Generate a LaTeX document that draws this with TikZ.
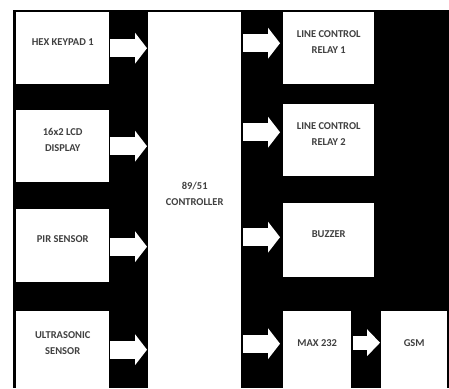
\documentclass[tikz,border=0pt]{standalone}
\usepackage{fontspec}
\setmainfont{Carlito}
\usetikzlibrary{arrows.meta}

\newcommand{\boxtext}[1]{\begin{tabular}[b]{@{}c@{}}#1\end{tabular}}

\tikzset{
  box/.style={fill=white, anchor=north west, inner sep=2pt, text depth=17pt,
    font=\bfseries\fontsize{10.5}{16}\selectfont, text=black!75},
  bigarrow/.style={draw=white, line width=18pt,
    -{Triangle[length=12pt,width=31pt,line width=0pt]}},
  smallarrow/.style={draw=white, line width=14pt,
    -{Triangle[length=13pt,width=27pt,line width=0pt]}}
}

\begin{document}
\begin{tikzpicture}[x=1pt, y=-1pt]
  \useasboundingbox (0,0) rectangle (449,388);
  % background
  \fill[black] (13,10) rectangle (449,388);

  % input blocks
  \node[box, minimum width=93, minimum height=72] (keypad) at (16,12) {\boxtext{HEX KEYPAD 1}};
  \node[box, minimum width=93, minimum height=72] (lcd) at (16,110) {\boxtext{16x2 LCD\\DISPLAY}};
  \node[box, minimum width=93, minimum height=73] (pir) at (16,209) {\boxtext{PIR SENSOR}};
  \node[box, minimum width=93, minimum height=77] (ultra) at (16,311) {\boxtext{ULTRASONIC\\SENSOR}};

  % controller
  \node[box, minimum width=93, minimum height=376] (ctrl) at (148,12) {\boxtext{89/51\\CONTROLLER}};

  % output blocks
  \node[box, minimum width=91, minimum height=72] (relay1) at (283,12) {\boxtext{LINE CONTROL\\RELAY 1}};
  \node[box, minimum width=91, minimum height=72] (relay2) at (283,104) {\boxtext{LINE CONTROL\\RELAY 2}};
  \node[box, minimum width=91, minimum height=74] (buzzer) at (283,203) {\boxtext{BUZZER}};
  \node[box, minimum width=68, minimum height=77] (max) at (283,311) {\boxtext{MAX 232}};
  \node[box, minimum width=66, minimum height=77] (gsm) at (381,311) {\boxtext{GSM}};

  % arrows
  \draw[bigarrow] ([xshift=1]keypad.east) -- ([xshift=-1]ctrl.west |- keypad.east);
  \draw[bigarrow] ([xshift=1]lcd.east) -- ([xshift=-1]ctrl.west |- lcd.east);
  \draw[bigarrow] ([xshift=1,yshift=-1]pir.east) -- ([xshift=-1,yshift=-1]ctrl.west |- pir.east);
  \draw[bigarrow] ([xshift=1]ultra.east) -- ([xshift=-1]ctrl.west |- ultra.east);
  \draw[bigarrow] ([xshift=2,yshift=5]ctrl.east |- relay1.west) -- ([xshift=-3,yshift=5]relay1.west);
  \draw[bigarrow] ([xshift=2,yshift=8]ctrl.east |- relay2.west) -- ([xshift=-3,yshift=8]relay2.west);
  \draw[bigarrow] ([xshift=2,yshift=3]ctrl.east |- buzzer.west) -- ([xshift=-3,yshift=3]buzzer.west);
  \draw[bigarrow] ([xshift=2,yshift=6]ctrl.east |- max.west) -- ([xshift=-3,yshift=6]max.west);
  \draw[smallarrow] ([xshift=2,yshift=7]max.east) -- ([xshift=-1,yshift=7]gsm.west);
\end{tikzpicture}
\end{document}
